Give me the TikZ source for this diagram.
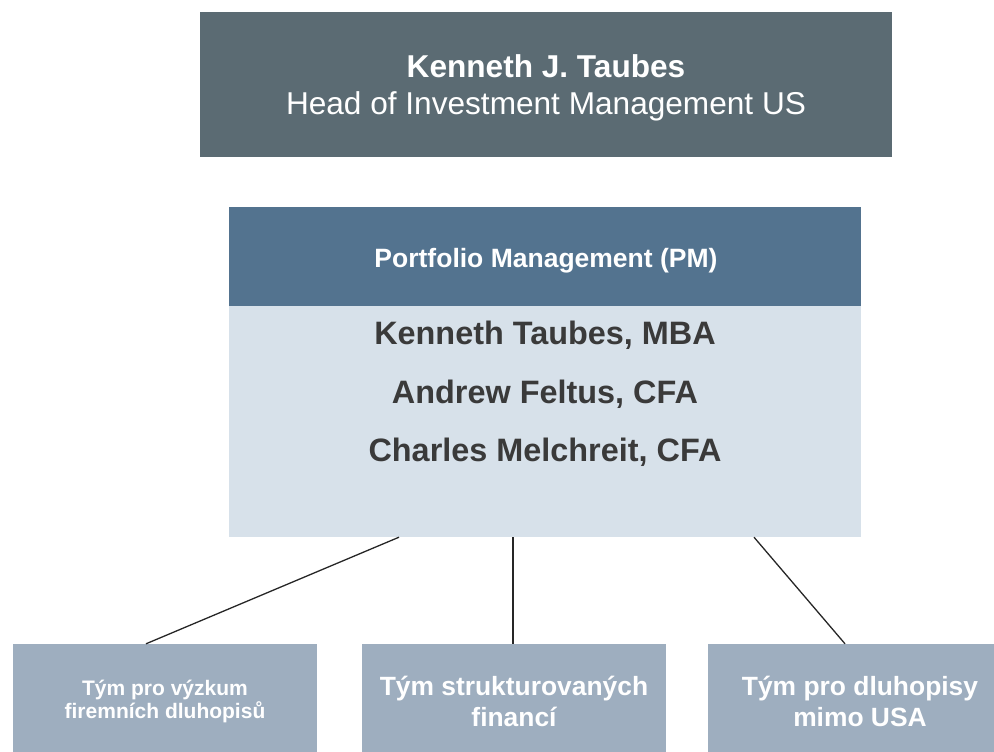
\documentclass[tikz,border=0pt]{standalone}
\usepackage{fontspec}
\setmainfont{Liberation Sans}
\definecolor{headgray}{HTML}{5B6B73}
\definecolor{pmblue}{HTML}{53738F}
\definecolor{pmlight}{HTML}{D7E1EA}
\definecolor{teamblue}{HTML}{9EAEBF}
\definecolor{namegray}{HTML}{3A3A3A}
\newcommand{\fs}[2]{\fontsize{#1}{#2}\selectfont}

\begin{document}
\begin{tikzpicture}[x=1pt,y=-1pt,
    box/.style={inner sep=0pt,align=center,text=white},
    team/.style={box,fill=teamblue,minimum width=304pt,minimum height=114pt},
    person/.style={text=namegray,font=\fs{32.4}{36}\bfseries},
    link/.style={draw=black!85,line width=1.3pt}]
   \useasboundingbox (0,0) rectangle (994,752);
   \node[box,fill=headgray,minimum width=692pt,minimum height=145pt] (head) at (546,84.5) {};
   \node[box,font=\fs{31.6}{37}] (headtxt) at (546,88)
        {\textbf{Kenneth J. Taubes}\\Head of Investment Management US};
   \node[box,fill=pmblue,minimum width=632pt,minimum height=99pt] (pmhead) at (545,256.5) {};
   \node[box,font=\fs{26.5}{30}\bfseries] (pmtitle) at (546,261) {Portfolio Management (PM)};
   \node[box,fill=pmlight,minimum width=632pt,minimum height=231pt] (pmbody) at (545,421.5) {};
   \node[person] (kt) at (545,335) {Kenneth Taubes, MBA};
   \node[person] (af) at (545,394) {Andrew Feltus, CFA};
   \node[person] (cm) at (545,452) {Charles Melchreit, CFA};
   \node[team,font=\fs{21}{23}\bfseries] (corp) at (165,701) {Tým pro výzkum\\firemních dluhopisů};
   \node[team,font=\fs{26.4}{31}\bfseries] (struct) at (514,701) {Tým strukturovaných\\financí};
   \node[team,font=\fs{26.4}{31}\bfseries] (intl) at (860,701) {Tým pro dluhopisy\\mimo USA};
   \draw[link] ([xshift=-146pt]pmbody.south) -- ([xshift=-19pt]corp.north);
   \draw[link] ([xshift=-32pt]pmbody.south) -- ([xshift=-1pt]struct.north);
   \draw[link] ([xshift=209pt]pmbody.south) -- ([xshift=-15pt]intl.north);
\end{tikzpicture}
\end{document}
